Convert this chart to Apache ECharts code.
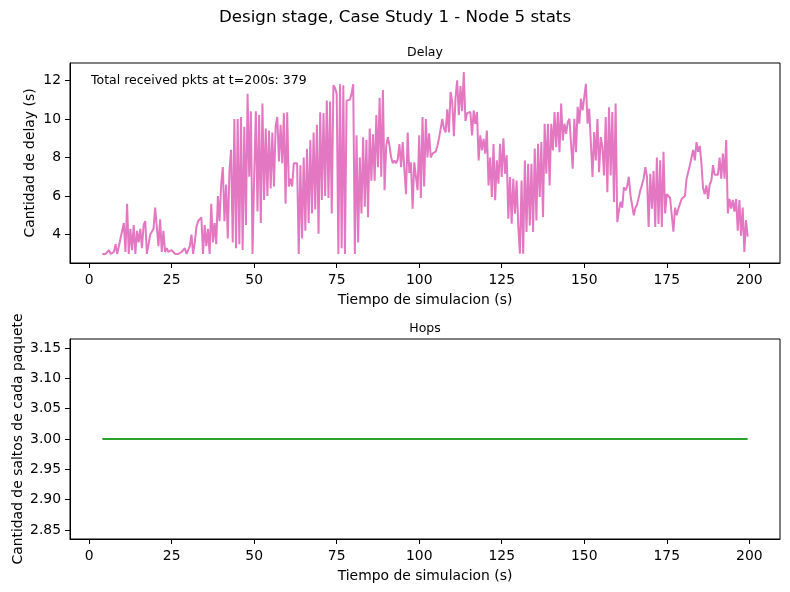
<!DOCTYPE html>
<html>
<head>
<meta charset="utf-8">
<script src="https://cdn.jsdelivr.net/npm/echarts@6/dist/echarts.min.js"></script>
<style>
  html, body { margin: 0; padding: 0; background: #fff; }
  #chart { width: 790px; height: 592px; }
</style>
</head>
<body>
<div id="chart"></div>
<script>
// tiempo de llegada de cada paquete (s)
var delayTime = [
  4.0, 4.5,
  5.0, 5.5, 6.0, 6.5, 7.0, 7.5, 8.0, 8.5, 9.0, 9.5,
  10.0, 10.5, 11.0, 11.5, 12.0, 12.5, 13.0, 13.5, 14.0, 14.5,
  15.0, 15.5, 16.0, 16.5, 17.0, 17.5, 18.0, 18.5, 19.0, 19.5,
  20.0, 20.5, 21.0, 21.5, 22.0, 22.5, 23.0, 23.5, 24.0, 24.5,
  25.0, 25.5, 26.0, 26.5, 27.0, 27.5, 28.0, 28.5, 29.0, 29.5,
  30.0, 30.5, 31.0, 31.5, 32.0, 32.5, 33.0, 33.5, 34.0, 34.5,
  35.0, 35.5, 36.0, 36.5, 37.0, 37.5, 38.0, 38.5, 39.0, 39.5,
  40.0, 40.5, 41.0, 41.5, 42.0, 42.5, 43.0, 43.5, 44.0, 44.5,
  45.0, 45.5, 46.0, 46.5, 47.0, 47.5, 48.0, 48.5, 49.0, 49.5,
  50.0, 50.5, 51.0, 51.5, 52.0, 52.5, 53.0, 53.5, 54.0, 54.5,
  55.0, 55.5, 56.0, 56.5, 57.0, 57.5, 58.0, 58.5, 59.0, 59.5,
  60.0, 60.5, 61.0, 61.5, 62.0, 62.5, 63.0, 63.5, 64.0, 64.5,
  65.0, 65.5, 66.0, 66.5, 67.0, 67.5, 68.0, 68.5, 69.0, 69.5,
  70.0, 70.5, 71.0, 71.5, 72.0, 72.5, 73.0, 73.5, 74.0, 74.5,
  75.0, 75.5, 76.0, 76.5, 77.0, 77.5, 78.0, 78.5, 79.0, 79.5,
  80.0, 80.5, 81.0, 81.5, 82.0, 82.5, 83.0, 83.5, 84.0, 84.5,
  85.0, 85.5, 86.0, 86.5, 87.0, 87.5, 88.0, 88.5, 89.0, 89.5,
  90.0, 90.5, 91.0, 91.5, 92.0, 92.5, 93.0, 93.5, 94.0, 94.5,
  95.0, 95.5, 96.0, 96.5, 97.0, 97.5, 98.0, 98.5, 99.0, 99.5,
  100.0, 100.5, 101.0, 101.5, 102.0, 102.5, 103.0, 103.5, 104.0, 104.5,
  105.0, 105.5, 106.0, 106.5, 107.0, 107.5, 108.0, 108.5, 109.0, 109.5,
  110.0, 110.5, 111.0, 111.5, 112.0, 112.5, 113.0, 113.5, 114.0, 114.5,
  115.0, 115.5, 116.0, 116.5, 117.0, 117.5, 118.0, 118.5, 119.0, 119.5,
  120.0, 120.5, 121.0, 121.5, 122.0, 122.5, 123.0, 123.5, 124.0, 124.5,
  125.0, 125.5, 126.0, 126.5, 127.0, 127.5, 128.0, 128.5, 129.0, 129.5,
  130.0, 130.5, 131.0, 131.5, 132.0, 132.5, 133.0, 133.5, 134.0, 134.5,
  135.0, 135.5, 136.0, 136.5, 137.0, 137.5, 138.0, 138.5, 139.0, 139.5,
  140.0, 140.5, 141.0, 141.5, 142.0, 142.5, 143.0, 143.5, 144.0, 144.5,
  145.0, 145.5, 146.0, 146.5, 147.0, 147.5, 148.0, 148.5, 149.0, 149.5,
  150.0, 150.5, 151.0, 151.5, 152.0, 152.5, 153.0, 153.5, 154.0, 154.5,
  155.0, 155.5, 156.0, 156.5, 157.0, 157.5, 158.0, 158.5, 159.0, 159.5,
  160.0, 160.5, 161.0, 161.5, 162.0, 162.5, 163.0, 163.5, 164.0, 164.5,
  165.0, 165.5, 166.0, 166.5, 167.0, 167.5, 168.0, 168.5, 169.0, 169.5,
  170.0, 170.5, 171.0, 171.5, 172.0, 172.5, 173.0, 173.5, 174.0, 174.5,
  175.0, 175.5, 176.0, 176.5, 177.0, 177.5, 178.0, 178.5, 179.0, 179.5,
  180.0, 180.5, 181.0, 181.5, 182.0, 182.5, 183.0, 183.5, 184.0, 184.5,
  185.0, 185.5, 186.0, 186.5, 187.0, 187.5, 188.0, 188.5, 189.0, 189.5,
  190.0, 190.5, 191.0, 191.5, 192.0, 192.5, 193.0, 193.5, 194.0, 194.5,
  195.0, 195.5, 196.0, 196.5, 197.0, 197.5, 198.0, 198.5, 199.0, 199.5
]
// delay de cada paquete (s)
var delayValue = [
  3.0, 3.0,
  3.0, 3.1, 3.2, 3.0, 3.0, 3.1, 3.5, 3.0, 3.4, 3.4,
  4.2, 4.6, 3.1, 5.6, 3.0, 4.3, 3.2, 4.5, 3.0, 4.2,
  3.6, 4.3, 3.3, 4.5, 4.7, 3.0, 3.0, 4.0, 4.1, 4.3,
  5.4, 4.4, 3.4, 4.8, 3.1, 4.2, 3.1, 3.3, 3.1, 3.0,
  3.2, 3.1, 3.0, 3.0, 3.0, 3.0, 3.1, 3.0, 3.3, 3.0,
  3.0, 3.4, 4.0, 3.0, 3.6, 4.4, 4.7, 4.8, 4.9, 3.0,
  4.5, 3.4, 4.3, 3.0, 5.6, 3.6, 4.6, 3.5, 6.0, 4.7,
  6.6, 7.5, 4.7, 6.6, 3.8, 7.3, 8.4, 3.6, 10.0, 3.3,
  10.0, 3.5, 10.1, 3.2, 9.6, 4.5, 11.3, 7.0, 10.4, 3.0,
  7.0, 10.4, 5.2, 10.2, 4.6, 10.8, 5.8, 9.5, 6.0, 9.4,
  6.4, 9.3, 6.5, 9.6, 10.1, 7.8, 9.7, 7.7, 10.3, 5.6,
  10.35, 6.5, 6.9, 6.5, 7.7, 7.6, 7.7, 3.0, 7.6, 3.8,
  8.0, 4.2, 8.45, 4.6, 8.9, 5.1, 9.3, 5.3, 9.7, 4.05,
  10.35, 5.8, 10.3, 6.0, 10.95, 5.9, 10.9, 5.1, 11.75, 11.6,
  11.3, 3.0, 11.8, 3.3, 11.75, 3.0, 10.95, 10.9, 11.0, 11.3,
  11.8, 3.0, 9.15, 3.6, 8.0, 5.1, 9.05, 5.45, 8.9, 4.9,
  9.5, 6.8, 9.2, 6.8, 10.2, 7.5, 11.1, 7.0, 11.5, 6.3,
  8.6, 9.05, 8.6, 8.0, 7.7, 7.85, 7.7, 7.9, 8.7, 7.5,
  8.8, 7.4, 6.1, 9.3, 7.2, 7.75, 5.35, 7.75, 7.0, 6.3,
  9.15, 5.9, 10.1, 6.5, 10.0, 8.0, 9.25, 8.0, 8.2, 8.3,
  8.3, 8.6, 9.0, 9.5, 10.0, 9.5, 9.3, 10.5, 9.3, 11.4,
  10.9, 9.1, 11.1, 12.0, 10.2, 11.7, 10.4, 12.43, 9.9, 10.3,
  10.4, 10.36, 9.15, 10.44, 9.75, 10.36, 7.85, 9.15, 8.37, 8.97,
  8.2, 9.4, 6.55, 8.0, 5.95, 8.7, 5.78, 7.85, 6.64, 8.71,
  6.99, 9.0, 7.16, 8.11, 4.83, 6.99, 4.57, 6.9, 5.09, 6.81,
  4.48, 3.01, 6.81, 3.01, 7.85, 4.14, 7.68, 4.48, 7.68, 4.14,
  8.46, 4.74, 8.71, 5.95, 8.8, 4.91, 9.75, 7.16, 9.75, 6.55,
  9.75, 8.37, 10.36, 8.54, 10.36, 8.28, 10.8, 8.89, 9.75, 9.23,
  9.84, 10.01, 10.1, 7.42, 10.01, 8.28, 10.63, 9.75, 11.05, 10.44,
  11.13, 11.82, 9.75, 10.53, 10.5, 6.99, 9.32, 7.85, 10.0, 7.24,
  9.06, 8.54, 7.07, 10.1, 6.2, 10.6, 7.07, 10.36, 5.7, 10.8,
  4.65, 5.25, 5.7, 5.4, 6.45, 6.3, 6.5, 7.0, 6.05, 6.1,
  5.0, 5.4, 5.55, 5.6, 6.3, 6.6, 6.9, 7.5, 7.0, 4.4,
  7.15, 5.35, 7.3, 4.4, 8.0, 4.55, 7.85, 4.4, 8.3, 5.1,
  6.1, 6.1, 5.9, 5.8, 4.15, 5.4, 5.0, 5.35, 5.4, 5.85,
  5.9, 6.0, 6.9, 6.8, 7.6, 7.7, 8.4, 7.85, 8.8, 8.3,
  8.6, 7.7, 6.4, 6.1, 6.55, 5.85, 6.6, 6.8, 7.6, 7.1,
  7.1, 7.1, 8.0, 6.9, 8.2, 6.9, 8.9, 5.1, 5.85, 5.35,
  5.8, 5.2, 5.85, 4.2, 5.8, 3.95, 5.4, 3.1, 4.75, 3.9
]
// saltos: siempre 3 del primer al ultimo paquete
var hopsTime = [4.0, 199.5]
var hopsValue = [3, 3]

var xTicks = [0, 25, 50, 75, 100, 125, 150, 175, 200]
var delayTicks = [4, 6, 8, 10, 12]
var hopsTicks = [2.85, 2.90, 2.95, 3.00, 3.05, 3.10, 3.15]

var FONT = 'DejaVu Sans'

function pairs(xs, ys) {
    let out = []
    for (let i = 0; i < xs.length; i++) {
        out.push([xs[i], ys[i]])
    }
    return out
}

function xAxisCfg(idx) {
    return {
        type: 'value',
        gridIndex: idx,
        min: -5.8,
        max: 209.3,
        name: 'Tiempo de simulacion (s)',
        nameLocation: 'middle',
        nameGap: 30,
        nameMoveOverlap: false,
        nameTextStyle: {color: '#000', fontSize: 13.9, fontFamily: FONT},
        axisLine: {show: true, onZero: false, lineStyle: {color: '#000', width: 1}},
        axisTick: {show: true, length: 5, customValues: xTicks, lineStyle: {color: '#000', width: 1}},
        axisLabel: {customValues: xTicks, margin: 10, color: '#000', fontSize: 13.9, fontFamily: FONT},
        splitLine: {show: false}
    }
}

function yAxisCfg(idx, min, max, ticks, name, gap, digits) {
    return {
        type: 'value',
        gridIndex: idx,
        min: min,
        max: max,
        name: name,
        nameLocation: 'middle',
        nameGap: gap,
        nameMoveOverlap: false,
        nameTextStyle: {color: '#000', fontSize: 13.9, fontFamily: FONT},
        axisLine: {show: true, onZero: false, lineStyle: {color: '#000', width: 1}},
        axisTick: {show: true, length: 5, customValues: ticks, lineStyle: {color: '#000', width: 1}},
        axisLabel: {
            customValues: ticks, margin: 9, color: '#000', fontSize: 13.9, fontFamily: FONT,
            formatter: function (v) { return v.toFixed(digits) }
        },
        splitLine: {show: false}
    }
}

var chart = echarts.init(document.getElementById('chart'))
var option = {
    animation: false,
    backgroundColor: '#fff',
    title: [
        {
            text: 'Design stage, Case Study 1 - Node 5 stats',
            left: 395, top: 9, textAlign: 'center', padding: 0,
            textStyle: {fontSize: 16.7, fontWeight: 'normal', color: '#000', fontFamily: FONT}
        },
        {
            text: 'Delay',
            left: 425, top: 46, textAlign: 'center', padding: 0,
            textStyle: {fontSize: 12.5, fontWeight: 'normal', color: '#000', fontFamily: FONT}
        },
        {
            text: 'Hops',
            left: 425, top: 322, textAlign: 'center', padding: 0,
            textStyle: {fontSize: 12.5, fontWeight: 'normal', color: '#000', fontFamily: FONT}
        },
        {
            text: 'Total received pkts at t=200s: 379',
            left: 91, top: 74, padding: 0,
            textStyle: {fontSize: 12.5, fontWeight: 'normal', color: '#000', fontFamily: FONT}
        }
    ],
    grid: [
        {left: 70, top: 63, width: 710, height: 200, show: true, borderColor: '#000', borderWidth: 1,
         outerBoundsMode: 'none'},
        {left: 70, top: 339, width: 710, height: 200, show: true, borderColor: '#000', borderWidth: 1,
         outerBoundsMode: 'none'}
    ],
    xAxis: [xAxisCfg(0), xAxisCfg(1)],
    yAxis: [
        yAxisCfg(0, 2.53, 12.9, delayTicks, 'Cantidad de delay (s)', 33, 0),
        yAxisCfg(1, 2.835, 3.165, hopsTicks, 'Cantidad de saltos de cada paquete', 45, 2)
    ],
    series: [
        {
            name: 'Delay',
            type: 'line',
            xAxisIndex: 0,
            yAxisIndex: 0,
            data: pairs(delayTime, delayValue),
            showSymbol: false,
            lineStyle: {color: '#e377c2', width: 2},
            itemStyle: {color: '#e377c2'}
        },
        {
            name: 'Hops',
            type: 'line',
            xAxisIndex: 1,
            yAxisIndex: 1,
            data: pairs(hopsTime, hopsValue),
            showSymbol: false,
            lineStyle: {color: '#2ca02c', width: 2},
            itemStyle: {color: '#2ca02c'}
        }
    ]
}
chart.setOption(option)
</script>
</body>
</html>
